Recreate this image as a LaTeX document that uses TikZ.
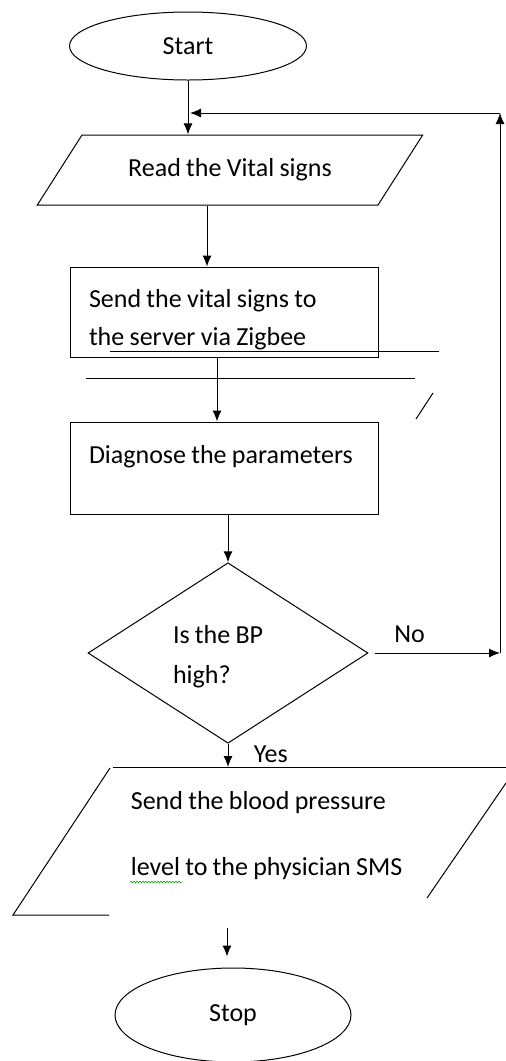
\documentclass[tikz,border=0pt]{standalone}
\usepackage{fontspec}
\setmainfont[WordSpace=0.9]{Carlito}
\usetikzlibrary{calc,arrows.meta,shapes,positioning,decorations.pathmorphing}
\tikzset{
block/.style={
  rectangle,
  draw,
  minimum width=308pt,
  text width=280pt,
  align=flush left,
  inner xsep=14pt,
  inner ysep=0pt},
io/.style={
  trapezium,
  draw,
  trapezium left angle=42.6,
  trapezium right angle=137.4,
  trapezium stretches=true,
  minimum width=386pt,
  minimum height=70pt},
terminal/.style={
  ellipse,
  draw,
  inner sep=0pt},
decision/.style={
  diamond,
  draw,
  minimum width=280pt,
  minimum height=172pt,
  text width=110pt,
  align=flush left,
  inner sep=0pt},
line/.style={draw, -{Latex[length=11pt,width=9pt]}},
edge/.style={draw}
}
\begin{document}
\begin{tikzpicture}[x=1pt,y=-1pt,line width=1pt,font=\fontsize{26}{38}\selectfont]
    \useasboundingbox (0,0) rectangle (506,1061);
    \node [terminal, minimum width=237pt, minimum height=68pt] (start) at (188,46) {Start};
    \node [io] (read) at (230,170) {Read the Vital signs};
    \node [block, minimum height=90pt] (send) at (224,312) {\hspace*{5pt}\rule{0pt}{34pt}Send the vital signs to\\\hspace*{5pt}the server via Zigbee};
    \node [block, minimum height=92pt] (diagnose) at (224,468) {\hspace*{5pt}\rule{0pt}{28pt}Diagnose the parameters\\\mbox{}};
    \node [decision, font=\fontsize{26}{40}\selectfont] (bphigh) at (228,653) {\rule{0pt}{26pt}Is the BP\\high?};
    \node [align=left, anchor=west, font=\fontsize{26}{66}\selectfont] (notify) at (127,836) {Send the blood pressure\\level to the physician SMS};
    \node [terminal, minimum width=236pt, minimum height=94pt] (stop) at (233,1015) {Stop};
    \coordinate (corner) at (500,113);
    \coordinate (ret) at (bphigh.east -| corner);
    \coordinate (join) at (190,113);
    \coordinate (notifytop) at (228,767);
    \coordinate (down) at (227,928);
    % output box, only partly drawn
    \path [edge] (113,767) -- (506,767);
    \path [edge] (506,783) -- (427,898);
    \path [edge] (110,768) -- (13,915) -- (109,915);
    \draw [green!60!black, line width=0.5pt, decorate, decoration={snake, amplitude=1pt, segment length=3pt}] (130,882) -- (182,882);
    % stray lines
    \path [edge] (110,351) -- (439,351);
    \path [edge] (86,378) -- (415,378);
    \path [edge] (433,393) -- (416,419);
    \path [line] (start) -- (start |- read.north);
    \path [line] ([xshift=-23pt]read.south) -- ([xshift=-23pt]read.south |- send.north);
    \path [line] ([xshift=-7pt]send.south) -- ([xshift=-7pt]send.south |- diagnose.north);
    \path [line] (bphigh.north |- diagnose.south) -- (bphigh.north);
    \path [line] ([xshift=6pt]bphigh.east) -- node [pos=0.28, above=6pt] {No} (ret);
    \path [line] (ret) -- (corner);
    \path [line] (corner) -- (join);
    \path [line] (bphigh.south) -- node [pos=0.45, right=22pt] {Yes} (notifytop);
    \path [line, shorten >=11pt] (down) -- (down |- stop.north);
\end{tikzpicture}
\end{document}
